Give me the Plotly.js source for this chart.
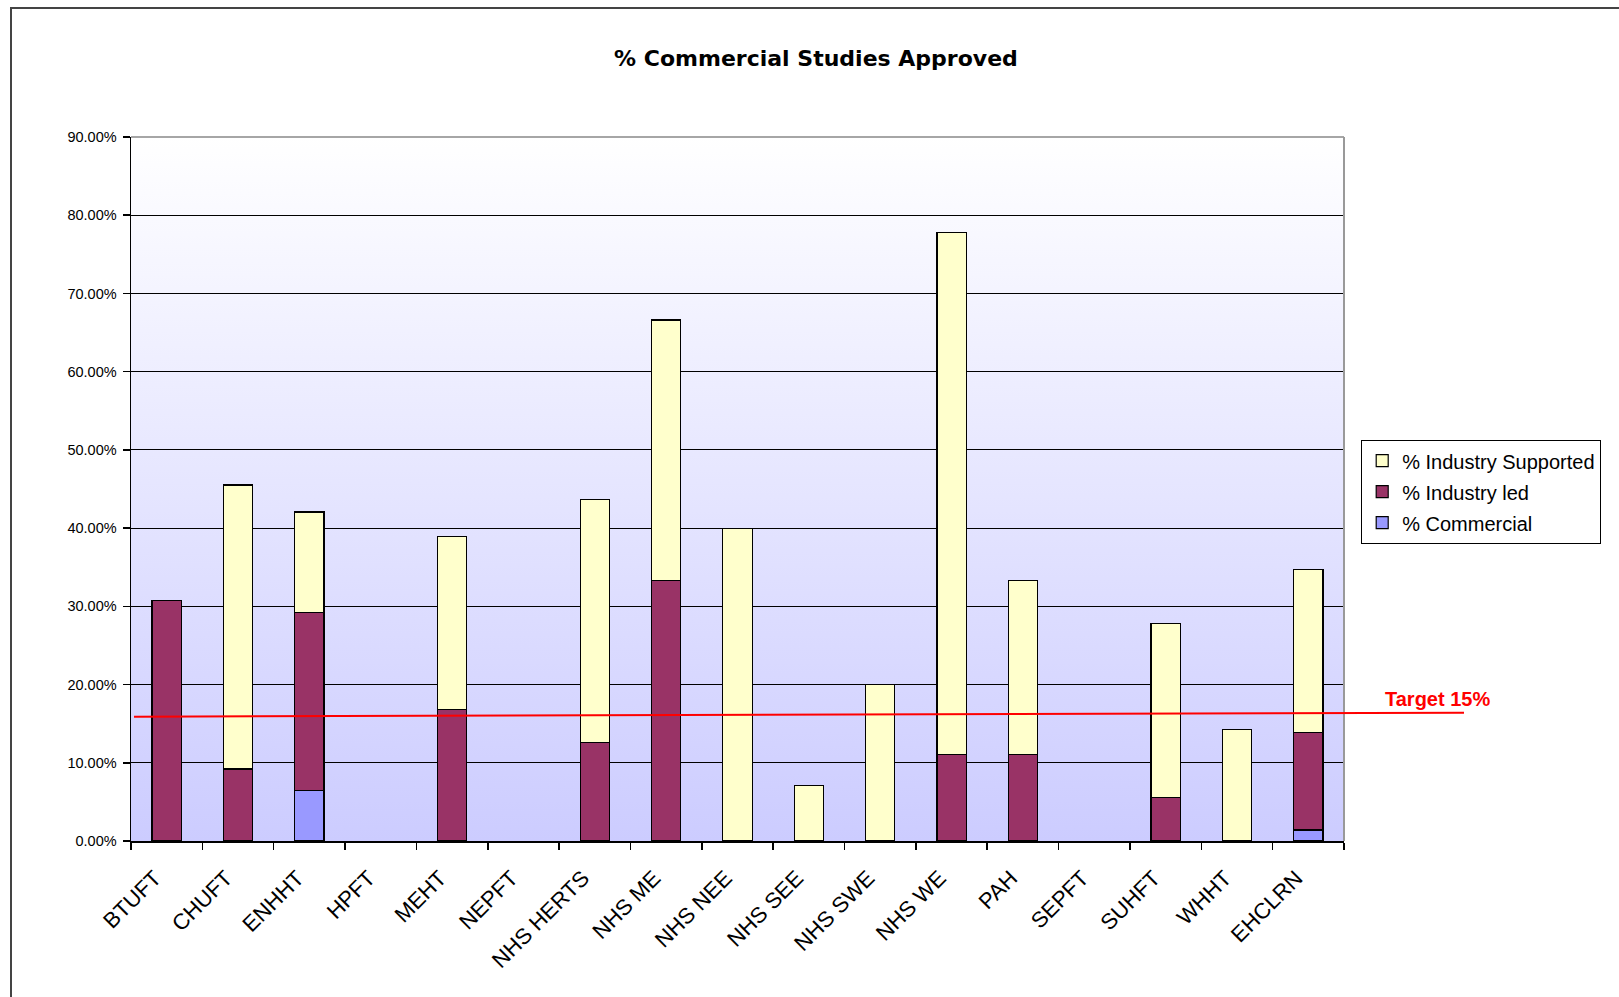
<!DOCTYPE html>
<html>
<head>
<meta charset="utf-8">
<script src="https://cdn.plot.ly/plotly-3.0.1.min.js"></script>
<style>
  html, body { margin: 0; padding: 0; background: #ffffff; overflow: hidden; }
  #chart { width: 1619px; height: 997px; position: absolute; left: 0; top: 0; }
  #frame { position: absolute; left: 10px; top: 7px; width: 1700px; height: 1100px;
           border-left: 2px solid #444; border-top: 2px solid #444; pointer-events: none; }
</style>
</head>
<body>
<div id="chart"></div>
<div id="frame"></div>
<script>
// ---- data (percent values) ----
const categories = ["BTUFT", "CHUFT", "ENHHT", "HPFT", "MEHT", "NEPFT", "NHS HERTS", "NHS ME",
                    "NHS NEE", "NHS SEE", "NHS SWE", "NHS WE", "PAH", "SEPFT", "SUHFT", "WHHT", "EHCLRN"];
const pctCommercial        = [0, 0, 6.45, 0, 0, 0, 0, 0, 0, 0, 0, 0, 0, 0, 0, 0, 1.4];
const pctIndustryLed       = [30.7, 9.2, 22.8, 0, 16.8, 0, 12.6, 33.3, 0, 0, 0, 11.1, 11.1, 0, 5.6, 0, 12.5];
const pctIndustrySupported = [0, 36.3, 12.8, 0, 22.1, 0, 31.1, 33.3, 40.0, 7.1, 20.0, 66.7, 22.2, 0, 22.2, 14.3, 20.8];
const seriesNames = ["% Commercial", "% Industry led", "% Industry Supported"];
const targetLabel = "Target 15%";
const targetLineEnds = [15.9, 16.4];   // as drawn in the picture (left end, right end)
const yTickValues = [0, 10, 20, 30, 40, 50, 60, 70, 80, 90];
const yTickLabels = ["0.00%", "10.00%", "20.00%", "30.00%", "40.00%", "50.00%", "60.00%", "70.00%", "80.00%", "90.00%"];

// ---- styling ----
const colors = ["#9999FF", "#993366", "#FFFFCC"];
const legendRanks = [3, 2, 1];
const valueSets = [pctCommercial, pctIndustryLed, pctIndustrySupported];

const traces = valueSets.map((vals, i) => ({
  type: "bar",
  name: seriesNames[i],
  x: categories,
  // zero-height segments are left undrawn (no outline stub at the axis)
  y: vals.map(v => (v > 0 ? v : null)),
  legendgroup: "g" + i,
  legendrank: legendRanks[i],
  marker: { color: colors[i], line: { color: "#000000", width: 1.2 } },
  hoverinfo: "x+y+name"
}));

const gradSvg = '<svg xmlns="http://www.w3.org/2000/svg" width="100" height="100" viewBox="0 0 100 100" preserveAspectRatio="none">' +
  '<defs><linearGradient id="g" x1="0" y1="0" x2="0" y2="1">' +
  '<stop offset="0" stop-color="#FFFFFF"/><stop offset="1" stop-color="#CCCCFF"/>' +
  '</linearGradient></defs><rect x="0" y="0" width="100" height="100" fill="url(#g)"/></svg>';

const layout = {
  width: 1619,
  height: 997,
  margin: { l: 131, r: 275, t: 137, b: 156 },
  paper_bgcolor: "#FFFFFF",
  plot_bgcolor: "rgba(0,0,0,0)",
  barmode: "stack",
  bargap: 0.59,
  font: { family: "Liberation Sans, Arial, sans-serif", color: "#000000", size: 14 },
  title: {
    text: "<b>% Commercial Studies Approved</b>",
    x: 0.504, xanchor: "center",
    y: 1 - 58 / 997, yanchor: "middle",
    font: { family: "DejaVu Sans, sans-serif", size: 22, color: "#000000" }
  },
  xaxis: {
    type: "category",
    showline: true, linecolor: "#000000", linewidth: 1.5,
    ticks: "outside", tickson: "boundaries", ticklen: 7, tickcolor: "#000000", tickwidth: 1.5,
    tickangle: -45,
    ticklabelstandoff: 14,
    ticklabelshift: -12,
    tickfont: { family: "Liberation Sans, Arial, sans-serif", size: 22, color: "#000000" },
    showgrid: false, zeroline: false,
    fixedrange: true
  },
  yaxis: {
    range: [0, 90],
    tickmode: "array",
    tickvals: yTickValues,
    ticktext: yTickLabels,
    showline: true, linecolor: "#000000", linewidth: 1.5,
    ticks: "outside", ticklen: 7, tickcolor: "#000000", tickwidth: 1.5,
    ticklabelstandoff: 3,
    showgrid: true, gridcolor: "#000000", gridwidth: 1.2,
    zeroline: false,
    tickfont: { family: "Liberation Sans, Arial, sans-serif", size: 14.5, color: "#000000" },
    fixedrange: true
  },
  legend: {
    x: (1361 - 131) / 1213, xanchor: "left",
    y: (841 - 440) / 704, yanchor: "top",
    traceorder: "grouped",
    tracegroupgap: 2,
    bgcolor: "#FFFFFF",
    bordercolor: "#000000", borderwidth: 1.2,
    font: { family: "Liberation Sans, Arial, sans-serif", size: 20, color: "#000000" }
  },
  images: [{
    source: "data:image/svg+xml;charset=utf-8," + encodeURIComponent(gradSvg),
    xref: "paper", yref: "paper", x: 0, y: 1, sizex: 1, sizey: 1,
    xanchor: "left", yanchor: "top", sizing: "stretch", layer: "below"
  }],
  shapes: [
    { type: "line", xref: "paper", yref: "paper", x0: 0, x1: 1, y0: 1, y1: 1,
      line: { color: "#888888", width: 1.5 } },
    { type: "line", xref: "paper", yref: "paper", x0: 1, x1: 1, y0: 0, y1: 1,
      line: { color: "#999999", width: 2 } },
    { type: "line", xref: "paper", yref: "y", x0: 3 / 1213, x1: (1464 - 131) / 1213,
      y0: targetLineEnds[0], y1: targetLineEnds[1],
      line: { color: "#FF0000", width: 2 } }
  ],
  annotations: [{
    text: "<b>" + targetLabel + "</b>",
    xref: "paper", yref: "y",
    x: (1383 - 131) / 1213, xanchor: "left",
    y: 18.2, yanchor: "middle",
    showarrow: false,
    font: { family: "Liberation Sans, Arial, sans-serif", size: 20, color: "#FF0000" }
  }]
};

Plotly.newPlot("chart", traces, layout, { displayModeBar: false, staticPlot: true });
</script>
</body>
</html>
